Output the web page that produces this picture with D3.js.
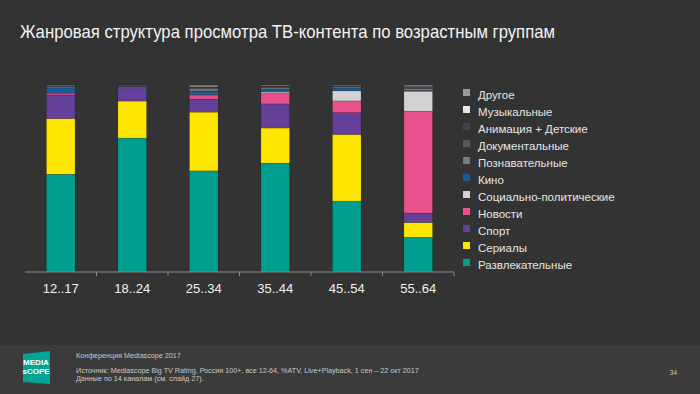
<!DOCTYPE html>
<html>
<head>
<meta charset="utf-8">
<script src="https://cdn.jsdelivr.net/npm/d3@7"></script>
<style>
	body { margin: 0; background: #333333; }
	svg { display: block; font-family: "Liberation Sans", Arial, sans-serif; }
</style>
</head>
<body>
<svg width="700" height="394"></svg>
<script>
// data........................................................................

var ages = ["12..17", "18..24", "25..34", "35..44", "45..54", "55..64"];

// genres from bottom of the stack to the top
var genres = ["Развлекательные", "Сериалы", "Спорт", "Новости",
	"Социально-политические", "Кино", "Познавательные", "Документальные",
	"Анимация + Детские", "Музыкальные", "Другое"];

var colors = ["#009e8e", "#ffe600", "#65409a", "#e8518c", "#d2d2d2",
	"#1d5b98", "#7a7a7a", "#5a5a5a", "#454545", "#e6e6e6", "#9a9a9a"];

// share of viewing, % (one array per age group, genre order as above)
var v1217 = [52.3, 29.8, 12.5, 0.7, 0.3, 2.9, 0.6, 0.3, 0.3, 0.2, 0.1];
var v1824 = [71.6, 19.8, 7.1, 0.3, 0.2, 0.3, 0.2, 0.2, 0.1, 0.1, 0.1];
var v2534 = [54.1, 31.4, 7.0, 2.0, 0.4, 1.8, 1.2, 0.8, 0.5, 0.5, 0.3];
var v3544 = [58.2, 18.8, 12.9, 5.9, 0.7, 1.4, 0.8, 0.5, 0.3, 0.3, 0.2];
var v4554 = [37.9, 35.7, 11.6, 6.3, 5.4, 1.5, 0.6, 0.4, 0.2, 0.2, 0.2];
var v5564 = [18.6, 7.9, 5.0, 54.5, 10.7, 0.4, 1.0, 0.8, 0.4, 0.4, 0.3];

var values = [v1217, v1824, v2534, v3544, v4554, v5564];

// setup.......................................................................

var svg = d3.select("svg");

var rows = ages.map(function(a, i) {
	var r = {age: a};
	genres.forEach(function(g, j) { r[g] = values[i][j]; });
	return r;
});

var stack = d3.stack().keys(genres)(rows);

var x = d3.scaleBand()
	.domain(ages)
	.range([25, 454])
	.paddingInner(0.6)
	.paddingOuter(0.3);

var y = d3.scaleLinear()
	.domain([0, 100])
	.range([272, 85]);

var color = d3.scaleOrdinal().domain(genres).range(colors);

// footer band
svg.append("rect")
	.attr("x", 0).attr("y", 345)
	.attr("width", 700).attr("height", 49)
	.attr("fill", "#3b3b3b");

// title (condensed to the width of the original narrow font)
svg.append("text")
	.attr("x", 20).attr("y", 38)
	.attr("fill", "#f2f2f2")
	.attr("textLength", 535)
	.attr("lengthAdjust", "spacingAndGlyphs")
	.style("font-family", "'Liberation Sans Narrow', 'Liberation Sans', sans-serif")
	.style("font-size", "18.5px")
	.text("Жанровая структура просмотра ТВ-контента по возрастным группам");

// bars........................................................................

svg.append("g")
	.selectAll("g")
	.data(stack)
	.enter().append("g")
		.attr("fill", function(d) { return color(d.key); })
	.selectAll("rect")
	.data(function(d) { return d; })
	.enter().append("rect")
		.attr("x", function(d) { return x(d.data.age); })
		.attr("y", function(d) { return y(d[1]); })
		.attr("width", x.bandwidth())
		.attr("height", function(d) { return y(d[0]) - y(d[1]); })
		.attr("stroke", "rgba(0,0,0,0.25)")
		.attr("stroke-width", 0.6);

// axis........................................................................

var step = x.step(),
	gap = step * x.paddingInner() / 2;

svg.append("line")
	.attr("x1", x.range()[0]).attr("x2", x.range()[1])
	.attr("y1", y(0)).attr("y2", y(0))
	.attr("stroke", "#8c8c8c");

var bounds = ages.slice(1).map(function(a) { return x(a) - gap; });
bounds.push(x.range()[1]);

svg.append("g")
	.selectAll("line")
	.data(bounds)
	.enter().append("line")
		.attr("x1", function(d) { return d; })
		.attr("x2", function(d) { return d; })
		.attr("y1", y(0)).attr("y2", y(0) + 4)
		.attr("stroke", "#8c8c8c");

var axis = svg.append("g")
	.attr("transform", "translate(0," + y(0) + ")")
	.call(d3.axisBottom(x).tickSize(0).tickPadding(12));
axis.select(".domain").remove();
axis.selectAll("text")
	.attr("fill", "#f0f0f0")
	.style("font-family", "'Liberation Sans', Arial, sans-serif")
	.style("font-size", "13px");

// legend......................................................................

var legend = svg.append("g")
	.selectAll("g")
	.data(genres.slice().reverse())
	.enter().append("g")
		.attr("transform", function(d, i) {
			return "translate(463," + (95 + i * 17) + ")"; });

legend.append("rect")
	.attr("x", 0).attr("y", -6)
	.attr("width", 7).attr("height", 7)
	.attr("fill", function(d) { return color(d); });

legend.append("text")
	.attr("x", 15).attr("y", 0)
	.attr("dy", "0.35em")
	.attr("fill", "#e6e6e6")
	.style("font-size", "11.5px")
	.text(function(d) { return d; });

// footer......................................................................

var logo = svg.append("g");
logo.append("path")
	.attr("d", "M23,354 L50,351 L50,384 L23,382 Z")
	.attr("fill", "#00a597");
logo.append("text")
	.attr("x", 36).attr("y", 365)
	.attr("text-anchor", "middle")
	.attr("fill", "#ffffff")
	.style("font-size", "8px")
	.style("font-weight", "bold")
	.text("MEDIA");
logo.append("text")
	.attr("x", 36).attr("y", 374)
	.attr("text-anchor", "middle")
	.attr("fill", "#ffffff")
	.style("font-size", "8px")
	.style("font-weight", "bold")
	.text("sCOPE");

var notes = [
	["Конференция Mediascope 2017", 358],
	["Источник: Mediascope Big TV Rating, Россия 100+, все 12-64, %ATV, Live+Playback, 1 сен – 22 окт 2017", 373],
	["Данные по 14 каналам (см. слайд 27).", 381]
];

svg.append("g")
	.selectAll("text")
	.data(notes)
	.enter().append("text")
		.attr("x", 76)
		.attr("y", function(d) { return d[1]; })
		.attr("fill", "#c8c8c8")
		.style("font-size", "7.2px")
		.text(function(d) { return d[0]; });

svg.append("text")
	.attr("x", 677).attr("y", 375)
	.attr("text-anchor", "end")
	.attr("fill", "#c8c8c8")
	.style("font-size", "6.5px")
	.text("34");
</script>
</body>
</html>
